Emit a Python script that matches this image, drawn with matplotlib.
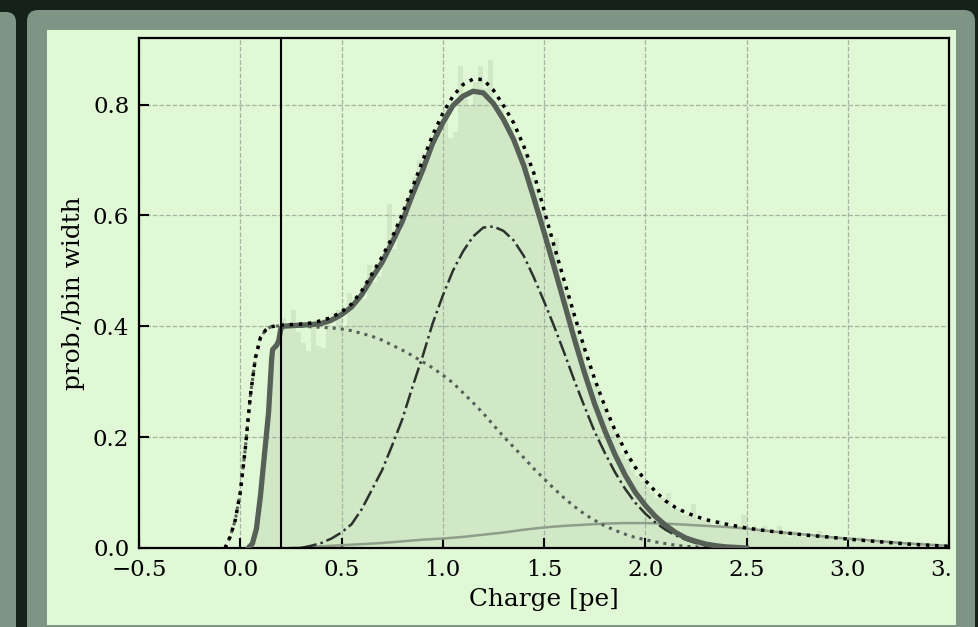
import numpy as np
import matplotlib
matplotlib.use('Agg')
import matplotlib.pyplot as plt
from matplotlib.patches import FancyBboxPatch
from matplotlib.transforms import IdentityTransform

# colours of the page around the plot
dark_bg = '#17211c'
panel_col = '#7e9485'
paper_col = '#e0f8d6'

# total fit (thick line)
fit_x = [0.04, 0.06, 0.08, 0.10, 0.12, 0.14, 0.155, 0.16, 0.18, 0.19, 0.20, 0.21,
         0.25, 0.30, 0.35, 0.40, 0.45, 0.50, 0.55, 0.60, 0.65, 0.70, 0.75, 0.80,
         0.85, 0.90, 0.95, 1.00, 1.05, 1.10, 1.15, 1.20, 1.25, 1.30, 1.35, 1.40,
         1.45, 1.50, 1.55, 1.60, 1.65, 1.70, 1.75, 1.80, 1.85, 1.90, 1.95, 2.00,
         2.05, 2.10, 2.15, 2.20, 2.25, 2.30, 2.35, 2.40, 2.50]
fit_y = [0.000, 0.008, 0.035, 0.095, 0.170, 0.245, 0.340, 0.358, 0.366, 0.374, 0.395, 0.400,
         0.401, 0.402, 0.403, 0.405, 0.411, 0.421, 0.435, 0.457, 0.487, 0.515, 0.551, 0.589,
         0.637, 0.681, 0.730, 0.767, 0.798, 0.815, 0.824, 0.821, 0.802, 0.773, 0.737, 0.690,
         0.631, 0.570, 0.507, 0.442, 0.377, 0.316, 0.260, 0.212, 0.169, 0.132, 0.101, 0.077,
         0.057, 0.041, 0.028, 0.018, 0.012, 0.007, 0.004, 0.002, 0.000]

# untruncated total (black dotted)
tot_x = [-0.075, -0.05, -0.025, 0.00, 0.025, 0.05, 0.075, 0.10, 0.125, 0.15, 0.20, 0.25,
         0.30, 0.35, 0.40, 0.45, 0.50, 0.55, 0.60, 0.65, 0.70, 0.75, 0.80, 0.85,
         0.90, 0.95, 1.00, 1.05, 1.10, 1.15, 1.20, 1.25, 1.30, 1.35, 1.40, 1.45,
         1.50, 1.55, 1.60, 1.65, 1.70, 1.75, 1.80, 1.85, 1.90, 1.95, 2.00, 2.05,
         2.10, 2.15, 2.20, 2.25, 2.30, 2.35, 2.40, 2.50, 2.60, 2.70, 2.80, 2.90,
         3.00, 3.10, 3.20, 3.30, 3.40, 3.50]
tot_y = [0.000, 0.020, 0.050, 0.100, 0.180, 0.275, 0.343, 0.380, 0.393, 0.399, 0.402, 0.403,
         0.404, 0.406, 0.410, 0.416, 0.426, 0.440, 0.464, 0.494, 0.525, 0.560, 0.602, 0.650,
         0.698, 0.745, 0.784, 0.815, 0.836, 0.846, 0.845, 0.826, 0.798, 0.767, 0.725, 0.676,
         0.610, 0.545, 0.482, 0.420, 0.360, 0.305, 0.256, 0.213, 0.176, 0.146, 0.122, 0.102,
         0.085, 0.073, 0.064, 0.057, 0.051, 0.047, 0.043, 0.036, 0.031, 0.027, 0.023, 0.020,
         0.016, 0.013, 0.010, 0.007, 0.005, 0.003]

# first component (grey dotted)
c1_x = [-0.075, -0.05, -0.025, 0.00, 0.025, 0.05, 0.075, 0.10, 0.125, 0.15, 0.20, 0.25,
        0.30, 0.35, 0.40, 0.45, 0.50, 0.55, 0.60, 0.65, 0.70, 0.75, 0.80, 0.85,
        0.90, 0.95, 1.00, 1.05, 1.10, 1.15, 1.20, 1.25, 1.30, 1.35, 1.40, 1.45,
        1.50, 1.55, 1.60, 1.65, 1.70, 1.75, 1.80, 1.85, 1.90, 1.95, 2.00, 2.05,
        2.10, 2.15, 2.20, 2.30, 2.40]
c1_y = [0.000, 0.020, 0.050, 0.100, 0.180, 0.275, 0.343, 0.380, 0.393, 0.399, 0.401, 0.401,
        0.400, 0.399, 0.398, 0.397, 0.395, 0.392, 0.387, 0.382, 0.375, 0.366, 0.357, 0.347,
        0.336, 0.325, 0.312, 0.298, 0.280, 0.262, 0.243, 0.222, 0.201, 0.182, 0.163, 0.143,
        0.125, 0.107, 0.090, 0.075, 0.061, 0.050, 0.040, 0.032, 0.025, 0.019, 0.015, 0.011,
        0.008, 0.005, 0.003, 0.001, 0.000]

# second component (dash-dot)
c2_x = [0.30, 0.35, 0.40, 0.45, 0.50, 0.55, 0.60, 0.65, 0.70, 0.75, 0.80, 0.85,
        0.90, 0.95, 1.00, 1.05, 1.10, 1.15, 1.20, 1.25, 1.30, 1.35, 1.40, 1.45,
        1.50, 1.55, 1.60, 1.65, 1.70, 1.75, 1.80, 1.85, 1.90, 1.95, 2.00, 2.05,
        2.10, 2.15, 2.20, 2.25, 2.30, 2.35, 2.40]
c2_y = [0.000, 0.004, 0.009, 0.017, 0.028, 0.043, 0.070, 0.105, 0.140, 0.185, 0.232, 0.290,
        0.345, 0.405, 0.455, 0.500, 0.535, 0.562, 0.578, 0.580, 0.572, 0.555, 0.527, 0.488,
        0.445, 0.400, 0.352, 0.302, 0.255, 0.210, 0.172, 0.137, 0.107, 0.082, 0.062, 0.046,
        0.033, 0.023, 0.015, 0.009, 0.005, 0.002, 0.000]

# broad background component (thin grey)
c3_x = [0.25, 0.30, 0.40, 0.50, 0.60, 0.70, 0.80, 0.90, 1.00, 1.10, 1.20, 1.30,
        1.40, 1.50, 1.60, 1.70, 1.80, 1.90, 2.00, 2.10, 2.20, 2.30, 2.40, 2.50,
        2.60, 2.70, 2.80, 2.90, 3.00, 3.10, 3.20, 3.30, 3.40, 3.50]
c3_y = [0.000, 0.001, 0.003, 0.005, 0.007, 0.009, 0.012, 0.015, 0.017, 0.020, 0.024, 0.028,
        0.033, 0.037, 0.040, 0.042, 0.044, 0.045, 0.045, 0.044, 0.042, 0.040, 0.038, 0.035,
        0.031, 0.027, 0.024, 0.020, 0.017, 0.014, 0.011, 0.008, 0.006, 0.004]

# measured histogram, bins of 0.025 starting at 0.05
hist_lo = 0.05
hist_w = 0.025
hist_vals = [0.01, 0.05, 0.14, 0.25, 0.35, 0.37,
             0.415, 0.405, 0.43, 0.39, 0.37, 0.355, 0.40, 0.365,
             0.36, 0.41, 0.395, 0.43, 0.40, 0.46, 0.44, 0.45,
             0.45, 0.51, 0.48, 0.49, 0.52, 0.62, 0.54, 0.57,
             0.60, 0.62, 0.67, 0.70, 0.69, 0.72, 0.74, 0.76,
             0.79, 0.74, 0.75, 0.87, 0.81, 0.80, 0.84, 0.87,
             0.83, 0.88, 0.80, 0.79, 0.76, 0.76, 0.72, 0.71,
             0.71, 0.67, 0.65, 0.61, 0.57, 0.55, 0.56, 0.48,
             0.46, 0.43, 0.39, 0.37, 0.33, 0.30, 0.29, 0.26,
             0.24, 0.22, 0.21, 0.17, 0.16, 0.14, 0.13, 0.12,
             0.11, 0.10, 0.09, 0.09, 0.10, 0.07, 0.07, 0.06,
             0.06, 0.08, 0.05, 0.05, 0.05, 0.04, 0.05, 0.04,
             0.04, 0.04, 0.04, 0.06, 0.03, 0.04, 0.03, 0.04,
             0.03, 0.03, 0.04, 0.03, 0.02, 0.03, 0.02, 0.02,
             0.02, 0.02, 0.03, 0.02, 0.02, 0.02, 0.02, 0.01,
             0.02, 0.01, 0.02, 0.01, 0.01, 0.01, 0.01, 0.01,
             0.01, 0.01, 0.01, 0.01, 0.01, 0.0, 0.01, 0.0,
             0.005, 0.0, 0.005, 0.0]

threshold = 0.2
x_ticks = [-0.5, 0.0, 0.5, 1.0, 1.5, 2.0, 2.5, 3.0, 3.5]
y_ticks = [0.0, 0.2, 0.4, 0.6, 0.8]

plt.rcParams['font.family'] = 'DejaVu Serif'

W, H = 979, 627
fig = plt.figure(figsize=(W / 100, H / 100), dpi=100, facecolor=dark_bg)


def px_box(x0, y0, x1, y1, color, z, r=0.0):
    # box given in image pixels (origin top-left)
    style = 'round,pad=0,rounding_size=%g' % r if r > 0 else 'square,pad=0'
    p = FancyBboxPatch((x0, H - y1), x1 - x0, y1 - y0, boxstyle=style,
                       transform=IdentityTransform(), facecolor=color,
                       edgecolor='none', zorder=z)
    fig.add_artist(p)


# page decoration
px_box(-30, 12, 16, 700, panel_col, -5, 10)
px_box(27, 10, 975, 700, panel_col, -5, 11)
px_box(47, 30, 956, 625, paper_col, -4)

ax = fig.add_axes([139 / W, 1 - 548 / H, (949 - 139) / W, (548 - 38) / H])
ax.set_facecolor(paper_col)

edges = hist_lo + hist_w * np.arange(len(hist_vals) + 1)
ax.stairs(hist_vals, edges, fill=True, color='#d1e8c7', zorder=0.2)

ax.plot(c3_x, c3_y, color='#8e9e8b', lw=1.8, zorder=2)
ax.plot(c1_x, c1_y, color='#566156', lw=2.2, ls=':', zorder=2)
ax.plot(c2_x, c2_y, color='#2c322c', lw=1.8, ls='-.', zorder=2)
ax.plot(fit_x, fit_y, color='#566056', lw=3.8, zorder=3)
ax.plot(tot_x, tot_y, color='black', lw=2.5, ls=':', zorder=3)
ax.axvline(threshold, color='black', lw=1.5, zorder=4)

ax.set_xlim(-0.5, 3.5)
ax.set_ylim(0, 0.92)
ax.set_xticks(x_ticks)
ax.set_yticks(y_ticks)
ax.grid(True, ls='--', color='#a3b3a0', lw=0.9)
ax.set_axisbelow('line')
ax.tick_params(direction='in', length=7, width=1.5, labelsize=16.5)
ax.tick_params(axis='x', pad=8)
ax.tick_params(axis='y', pad=7)
for s in ax.spines.values():
    s.set_linewidth(1.6)
ax.set_xlabel('Charge [pe]', fontsize=17.8, labelpad=5)
ax.set_ylabel('prob./bin width', fontsize=17.8, labelpad=6)

# the original figure ends just right of the axes: the last tick label is cut
px_box(952, 552, 956, 625, paper_col, 10)
px_box(956, 20, 975, 700, panel_col, 10)
px_box(975, 0, 990, 700, dark_bg, 10)

fig.savefig('out.png', dpi=100, facecolor=dark_bg)
